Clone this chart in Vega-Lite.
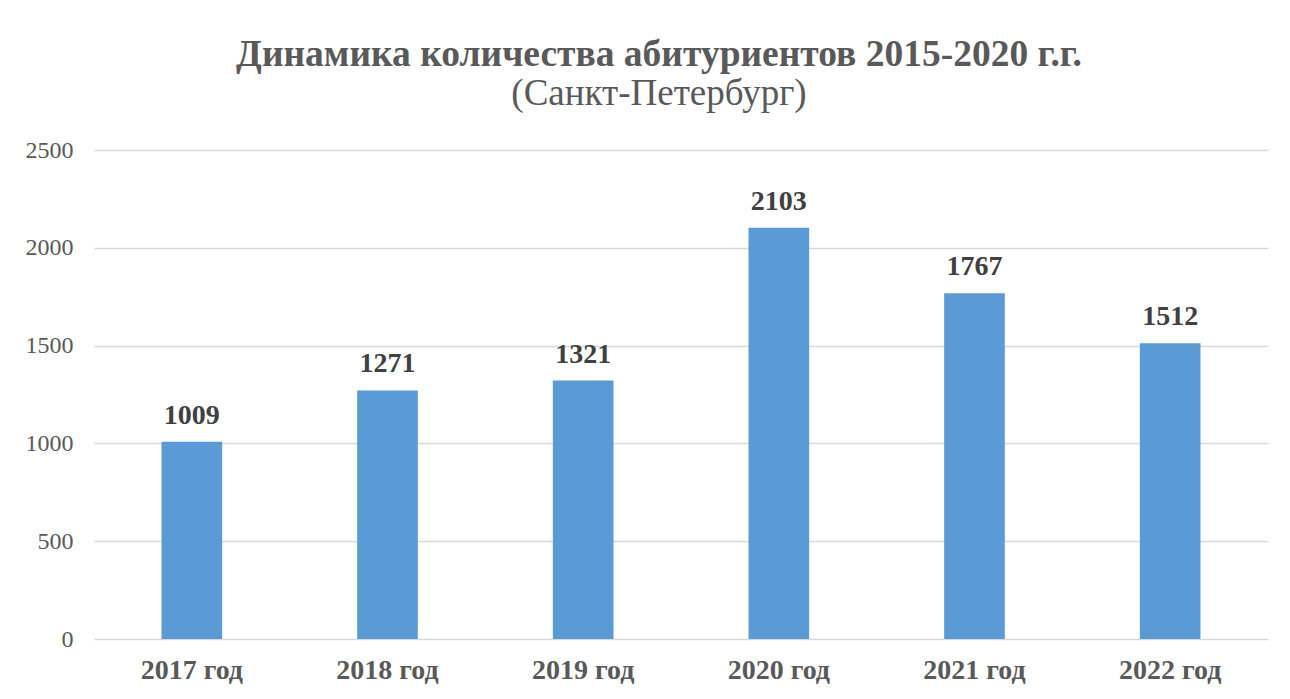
{
  "$schema": "https://vega.github.io/schema/vega-lite/v6.json",
  "width": 1174,
  "height": 489,
  "autosize": {"type": "none"},
  "padding": {"left": 94, "top": 150, "right": 22, "bottom": 60},
  "background": "white",
  "title": {
    "text": "Динамика количества абитуриентов 2015-2020 г.г.",
    "subtitle": "(Санкт-Петербург)",
    "anchor": "middle",
    "dx": -22,
    "offset": 26,
    "font": "Liberation Serif",
    "fontSize": 37.5,
    "fontWeight": "bold",
    "color": "#595959",
    "subtitleFont": "Liberation Serif",
    "subtitleFontSize": 37,
    "subtitleColor": "#595959",
    "subtitlePadding": 3
  },
  "data": {
    "values": [
      {"year": "2017 год", "count": 1009},
      {"year": "2018 год", "count": 1271},
      {"year": "2019 год", "count": 1321},
      {"year": "2020 год", "count": 2103},
      {"year": "2021 год", "count": 1767},
      {"year": "2022 год", "count": 1512}
    ]
  },
  "config": {
    "view": {"stroke": null},
    "axis": {"domain": false, "ticks": false, "title": null}
  },
  "encoding": {
    "x": {
      "field": "year",
      "type": "nominal",
      "sort": null,
      "scale": {"paddingInner": 0.69, "paddingOuter": 0.345},
      "axis": {
        "labelAngle": 0,
        "labelFont": "Liberation Serif",
        "labelFontSize": 28,
        "labelFontWeight": "bold",
        "labelColor": "#595959",
        "labelPadding": 17,
        "grid": false
      }
    },
    "y": {
      "field": "count",
      "type": "quantitative",
      "scale": {"domain": [0, 2500]},
      "axis": {
        "values": [0, 500, 1000, 1500, 2000, 2500],
        "format": "d",
        "labelFont": "Liberation Serif",
        "labelFontSize": 24,
        "labelColor": "#595959",
        "labelPadding": 21,
        "grid": true,
        "gridColor": "#d9d9d9",
        "gridWidth": 1.3
      }
    }
  },
  "layer": [
    {"mark": {"type": "bar", "color": "#5b9bd5"}},
    {
      "mark": {
        "type": "text",
        "baseline": "alphabetic",
        "dy": -18,
        "font": "Liberation Serif",
        "fontSize": 28,
        "fontWeight": "bold",
        "color": "#404040"
      },
      "encoding": {"text": {"field": "count", "type": "quantitative"}}
    }
  ]
}
